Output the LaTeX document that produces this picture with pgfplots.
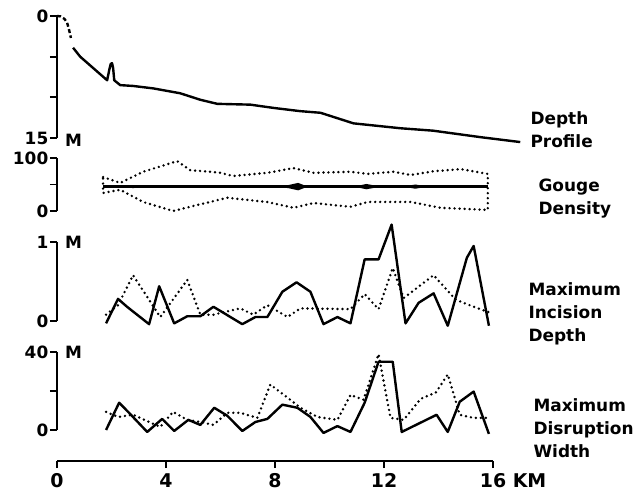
\documentclass[border=0pt]{standalone}
\usepackage{fontspec}
\setmainfont{DejaVu Sans}
\usepackage{pgfplots}
\pgfplotsset{compat=1.18}

\pgfplotsset{
  panel/.style={
    scale only axis, width=436bp, xmin=0, xmax=16, clip=false,
    anchor=south west,
    axis x line=none, xtick=\empty,
    axis y line*=left, axis line style={-, line width=1.8bp},
    tick align=outside, major tick length=7bp,
    every tick/.style={black, line width=1.8bp},
    yticklabel style={font=\bfseries\fontsize{17}{17}\selectfont, inner sep=1.5bp},
    /pgf/number format/assume math mode=true,
  },
  solid line/.style={black, line width=2.4bp, line join=round},
  dots/.style={black, line width=2.7bp, dash pattern=on 0bp off 5bp, line cap=round},
}
\newcommand{\lab}{\bfseries\fontsize{17}{23}\selectfont}

\begin{document}
\begin{tikzpicture}
\path[use as bounding box] (0,0) rectangle (638bp,498bp);

% depth profile
\begin{axis}[panel, at={(57bp,360bp)}, height=122bp,
  ymin=0, ymax=15, y dir=reverse, ytick={0,5,10,15}, yticklabels={0,,,15}]
\addplot[black, line width=2.4bp, dash pattern=on 4bp off 2.5bp] coordinates
  {(0,0)(0.13,0.05)(0.27,0.35)(0.37,0.8)(0.45,1.8)(0.51,2.7)};
\addplot[solid line] coordinates {
  (0.59,3.9)(0.85,5.0)(1.84,7.9)(1.92,6.6)(1.97,5.9)(2.02,5.8)(2.06,6.4)(2.1,7.9)
  (2.32,8.5)(2.79,8.6)(3.53,8.9)(4.52,9.5)(5.26,10.3)(5.88,10.8)(7.1,10.9)
  (7.94,11.3)(8.93,11.7)(9.67,11.9)(10.88,13.2)(12.6,13.8)(13.8,14.1)
  (15.55,14.9)(17.0,15.5)};
\node[anchor=west, inner sep=0pt, xshift=8bp, yshift=-2bp, font=\lab] at (axis cs:0,15) {M};
\end{axis}

% gouge density
\begin{axis}[panel, at={(57bp,287bp)}, height=53bp,
  ymin=0, ymax=100, ytick={0,50,100}, yticklabels={0,,100}]
\addplot[dots] coordinates {
  (1.69,64)(2.32,53)(3.16,74)(4.41,94)(4.89,77)(5.63,74)(5.99,72)(6.47,66)
  (7.72,72)(8.68,81)(9.41,72)(10.77,74)(11.4,70)(12.35,74)(12.98,68)
  (13.82,75)(14.82,79)(15.81,70)
  (15.81,2)(14.08,6)(12.98,17)(11.4,17)(10.77,8)(9.41,15)(8.68,6)(7.72,17)
  (6.25,25)(4.89,8)(4.26,0)(3.16,17)(2.32,40)(1.69,34)} -- cycle;
\addplot[black, line width=2.4bp] coordinates {(1.69,46)(15.81,46)};
\addplot[fill=black, draw=none] coordinates
  {(8.1,46)(8.5,49)(8.85,53)(9.2,46)(8.85,39)(8.5,43)} -- cycle;
\addplot[fill=black, draw=none] coordinates
  {(10.9,46)(11.35,51)(11.9,46)(11.35,41)} -- cycle;
\addplot[fill=black, draw=none] coordinates
  {(12.7,46)(13.15,50)(13.6,46)(13.15,42)} -- cycle;
\addplot[fill=black, draw=none] coordinates
  {(2.5,46)(2.8,49)(3.05,46)(2.8,43)} -- cycle;
\end{axis}

% maximum incision depth
\begin{axis}[panel, at={(57bp,177bp)}, height=79bp,
  ymin=0, ymax=1, ytick={0,1}, yticklabels={0,1}]
\addplot[solid line] coordinates {
  (1.8,-0.03)(2.24,0.28)(2.57,0.18)(3.38,-0.04)(3.75,0.44)(4.3,-0.03)
  (4.78,0.06)(5.26,0.06)(5.74,0.18)(6.8,-0.04)(7.28,0.05)(7.72,0.05)
  (8.27,0.37)(8.79,0.49)(9.3,0.37)(9.78,-0.04)(10.29,0.05)(10.77,-0.03)
  (11.29,0.78)(11.8,0.78)(12.28,1.22)(12.79,-0.03)(13.27,0.23)(13.82,0.35)
  (14.34,-0.06)(15.04,0.8)(15.29,0.95)(15.85,-0.06)};
\addplot[dots] coordinates {
  (1.8,0.08)(2.24,0.2)(2.79,0.58)(3.79,0.05)(4.78,0.52)(5.26,0.08)(5.74,0.08)
  (6.73,0.16)(7.2,0.08)(7.72,0.2)(8.46,0.05)(8.93,0.16)(10.77,0.15)
  (11.29,0.34)(11.8,0.15)(12.32,0.67)(12.72,0.29)(13.82,0.58)(14.63,0.27)
  (15.29,0.18)(15.85,0.11)};
\node[anchor=west, inner sep=0pt, xshift=8bp, font=\lab] at (axis cs:0,1) {M};
\end{axis}

% maximum disruption width
\begin{axis}[panel, at={(57bp,68bp)}, height=78bp,
  ymin=0, ymax=40, ytick={0,20,40}, yticklabels={0,,40}]
\addplot[solid line] coordinates {
  (1.8,0)(2.28,14)(2.61,9.3)(3.31,-1)(3.86,5.7)(4.3,-0.5)(4.82,5.2)(5.26,2.6)
  (5.77,11.4)(6.25,7.3)(6.8,-0.5)(7.28,4.1)(7.72,5.7)(8.27,13)(8.82,11.4)
  (9.3,6.7)(9.78,-1.5)(10.29,2)(10.77,-1)(11.29,14)(11.8,35)(12.32,35)
  (12.65,-1)(13.93,7.8)(14.34,-1)(14.78,14.5)(15.29,19.7)(15.85,-2)};
\addplot[dots] coordinates {
  (1.8,9.3)(2.24,6.7)(2.79,7.8)(3.79,1.6)(4.26,9.3)(4.78,5.2)(5.26,4.1)
  (5.74,2.6)(6.25,8.8)(6.73,8.8)(7.35,6.2)(7.83,23.3)(8.46,16.6)(8.93,11.4)
  (9.56,6.7)(10.29,5.2)(10.77,18)(11.25,15.5)(11.8,38.9)(12.24,6.2)
  (12.72,5.2)(13.35,16)(13.9,19.2)(14.34,28.5)(14.78,7.8)(15.29,6.2)(15.81,6.2)};
\node[anchor=west, inner sep=0pt, xshift=8bp, font=\lab] at (axis cs:0,40) {M};
\end{axis}

% distance axis
\begin{axis}[scale only axis, width=436bp, height=10bp, at={(57bp,37bp)},
  anchor=south west, xmin=0, xmax=16, ymin=0, ymax=1,
  axis y line=none, axis x line*=bottom, axis line style={-, line width=1.8bp},
  xtick={0,4,8,12,16}, xticklabels={0,4,8,12,16\rlap{\hspace{0.35em}KM}},
  tick align=outside, major tick length=7bp,
  every tick/.style={black, line width=1.8bp},
  xticklabel style={font=\bfseries\fontsize{19}{19}\selectfont, yshift=-2bp},
  /pgf/number format/assume math mode=true]
\end{axis}

\node[anchor=west, align=left, font=\lab] at (527bp,368.5bp) {Depth\\Profile};
\node[anchor=west, align=left, font=\lab] at (535bp,299bp) {Gouge\\Density};
\node[anchor=west, align=left, font=\lab] at (525bp,184bp) {Maximum\\Incision\\Depth};
\node[anchor=west, align=left, font=\lab] at (530bp,70bp) {Maximum\\Disruption\\Width};
\end{tikzpicture}
\end{document}
